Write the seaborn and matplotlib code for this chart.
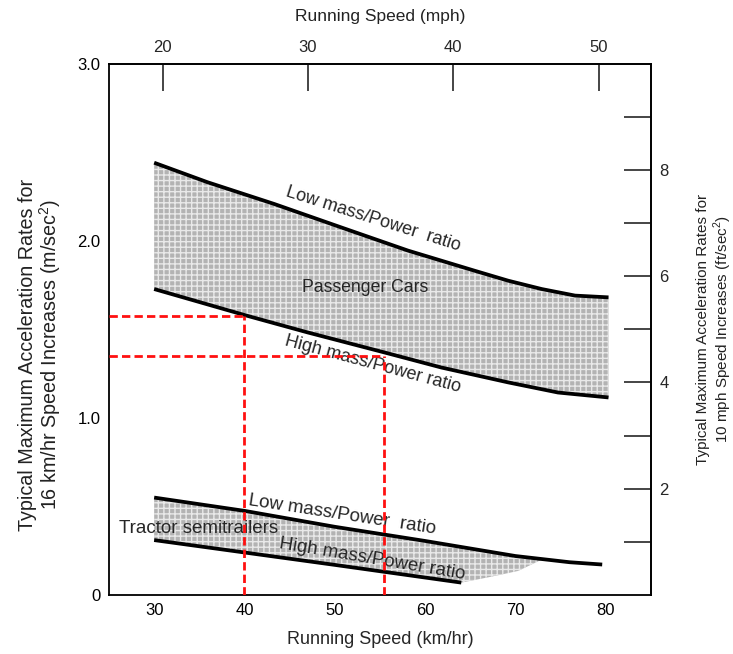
import numpy as np
import matplotlib
matplotlib.use("Agg")
import matplotlib.pyplot as plt
import seaborn as sns

sns.set_style("white")
plt.rcParams['font.family'] = ['Liberation Sans', 'DejaVu Sans']
plt.rcParams['hatch.linewidth'] = 1.0
plt.rcParams['mathtext.fontset'] = 'custom'
plt.rcParams['mathtext.rm'] = 'Liberation Sans'

# passenger cars (km/hr vs m/sec^2)
pc_low_x = [30, 35.9, 43.3, 50.7, 58.1, 65.5, 69.2, 72.9, 76.6, 80.3]
pc_low_y = [2.44, 2.33, 2.207, 2.075, 1.944, 1.83, 1.774, 1.727, 1.69, 1.68]
pc_high_x = [30, 40.3, 47, 55.5, 61.8, 69.2, 74.7, 80.3]
pc_high_y = [1.727, 1.576, 1.482, 1.369, 1.284, 1.20, 1.143, 1.115]

# tractor semitrailers
tr_low_x = [30, 40, 50, 60, 70, 76, 79.6]
tr_low_y = [0.55, 0.475, 0.385, 0.305, 0.22, 0.185, 0.172]
tr_high_x = [30, 40, 50, 64]
tr_high_y = [0.31, 0.24, 0.17, 0.07]
# shaded wedge after the high mass line stops
tr_tail_x = [64, 67, 70.3, 72.5, 73.2]
tr_tail_y = [0.07, 0.10, 0.136, 0.19, 0.205]

# red guide lines
red_x = [40, 55.4]
red_y = [1.576, 1.35]

x_ticks = [30, 40, 50, 60, 70, 80]
y_ticks = [0, 1.0, 2.0, 3.0]
y_ticklabels = ['0', '1.0', '2.0', '3.0']
mph_ticks = [20, 30, 40, 50]
fps_major = [2, 4, 6, 8]
fps_minor = [1, 3, 5, 7, 9]

XLIM = (25, 85)
YLIM = (0, 3.0)
KMH_PER_MPH = 1.609
MPH20_AT_KMH = 30.94   # where the 20 mph tick sits in the original figure
M_PER_FT = 0.30        # scale used by the original right axis

FILL_FACE = '#b3b3b3'
FILL_HATCH = '#e9e9e9'
TL = 19.5

fig = plt.figure(figsize=(7.33, 6.54), dpi=100)
ax = fig.add_axes([0.1487, 0.0902, 0.7394, 0.8127])

# shaded bands
ax.fill_between(pc_low_x, pc_low_y, np.interp(pc_low_x, pc_high_x, pc_high_y),
                facecolor=FILL_FACE, edgecolor=FILL_HATCH, hatch='+++', lw=0, zorder=1)
tr_x = sorted(set(tr_low_x[:4] + tr_high_x + tr_tail_x))
tr_x = [v for v in tr_x if v <= tr_tail_x[-1]]
bottom = np.where(np.array(tr_x) <= tr_high_x[-1],
                  np.interp(tr_x, tr_high_x, tr_high_y),
                  np.interp(tr_x, tr_tail_x, tr_tail_y))
ax.fill_between(tr_x, np.interp(tr_x, tr_low_x, tr_low_y), bottom,
                facecolor=FILL_FACE, edgecolor=FILL_HATCH, hatch='+++', lw=0, zorder=1)

for xs, ys in [(pc_low_x, pc_low_y), (pc_high_x, pc_high_y),
               (tr_low_x, tr_low_y), (tr_high_x, tr_high_y)]:
    sns.lineplot(x=xs, y=ys, ax=ax, color='black', lw=2.7, sort=False,
                 solid_capstyle='butt', zorder=3)

# red dashed guides
ax.hlines(red_y, XLIM[0], red_x, colors='#ff1010', linestyles=(0, (3, 1.5)), lw=2, zorder=5)
ax.vlines(red_x, YLIM[0], red_y, colors='#ff1010', linestyles=(0, (3, 1.5)), lw=2, zorder=5)

# annotations
ax.text(54.2, 2.12, 'Low mass/Power  ratio', rotation=-17.5, ha='center', va='center', fontsize=13)
ax.text(53.3, 1.736, 'Passenger Cars', ha='center', va='center', fontsize=12.7)
ax.text(54.2, 1.30, 'High mass/Power ratio', rotation=-15, ha='center', va='center', fontsize=13)
ax.text(50.8, 0.452, 'Low mass/Power  ratio', rotation=-8.7, ha='center', va='center', fontsize=13.5)
ax.text(26.1, 0.377, 'Tractor semitrailers', ha='left', va='center', fontsize=13.5)
ax.text(54.1, 0.205, 'High mass/Power ratio', rotation=-9.5, ha='center', va='center', fontsize=13.5)

ax.set_xlim(*XLIM)
ax.set_ylim(*YLIM)
ax.set_xticks(x_ticks)
ax.set_yticks(y_ticks)
ax.set_yticklabels(y_ticklabels)
ax.tick_params(axis='both', direction='in', length=TL, width=1.2, labelsize=12,
               colors='black', pad=6)
for s in ax.spines.values():
    s.set_visible(True)
    s.set_color('black')
    s.set_linewidth(1.3)

ax.set_xlabel('Running Speed (km/hr)', fontsize=13, labelpad=9)
ax.set_ylabel('Typical Maximum Acceleration Rates for\n16 km/hr Speed Increases (m/sec$^2$)',
              fontsize=14.2, color='#222222', linespacing=1.05)
ax.yaxis.set_label_coords(-0.084, 0.452)

# top axis in mph
top = ax.secondary_xaxis('top', functions=(
    lambda k: (k - MPH20_AT_KMH) / KMH_PER_MPH + 20,
    lambda m: (m - 20) * KMH_PER_MPH + MPH20_AT_KMH))
top.set_xticks(mph_ticks)
top.tick_params(direction='in', length=TL, width=1.2, labelsize=12, pad=6)
top.set_xlabel('Running Speed (mph)', fontsize=12.5, labelpad=14, color='#222222')

# right axis in ft/sec^2
right = ax.secondary_yaxis('right', functions=(lambda m: m / M_PER_FT, lambda f: f * M_PER_FT))
right.set_yticks(fps_major)
right.set_yticks(fps_minor, minor=True)
right.tick_params(which='both', direction='in', length=TL, width=1.2, labelsize=12, pad=6)
right.set_ylabel('Typical Maximum Acceleration Rates for\n10 mph Speed Increases (ft/sec$^2$)',
                 fontsize=11, labelpad=20, color='#222222', linespacing=1.1)
for sec in (top, right):
    for s in sec.spines.values():
        s.set_linewidth(1.3)

fig.savefig('out.png', dpi=100)
